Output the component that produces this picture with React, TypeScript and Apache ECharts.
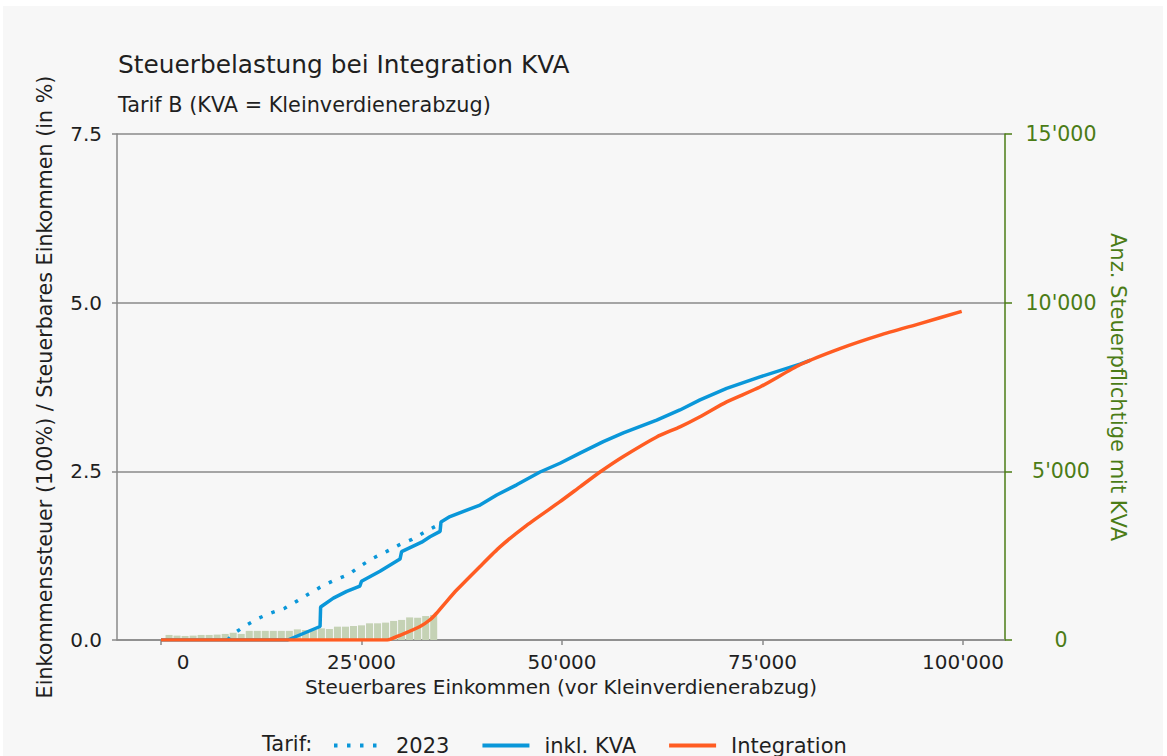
import React, { useEffect, useRef } from "react";
import * as echarts from "echarts";

// ---------- data ----------
const title = "Steuerbelastung bei Integration KVA";
const subtitle = "Tarif B (KVA = Kleinverdienerabzug)";
const xTicks = [0, 25000, 50000, 75000, 100000];

// histogram: number of taxpayers with KVA per 1'000 income bin (bin centres)
const binCenters = [
  1000, 2000, 3000, 4000, 5000, 6000, 7000, 8000, 9000, 10000,
  11000, 12000, 13000, 14000, 15000, 16000, 17000, 18000, 19000, 20000,
  21000, 22000, 23000, 24000, 25000, 26000, 27000, 28000, 29000, 30000,
  31000, 32000, 33000, 34000,
];
const binCounts = [
  150, 130, 120, 130, 150, 150, 160, 180, 215, 180,
  270, 270, 270, 270, 270, 270, 315, 295, 295, 345,
  325, 395, 395, 415, 435, 495, 495, 515, 565, 595,
  670, 660, 710, 740,
];

// Tarif 2023 (dotted)
const income2023 = [8300, 9000, 10500, 12100, 13700, 15400, 17000, 18500, 20100, 21700, 23400, 24900, 26400, 28100, 29700, 31300, 32900, 34450, 34900];
const tax2023 = [0, 0.09, 0.21, 0.32, 0.40, 0.47, 0.58, 0.69, 0.80, 0.89, 0.97, 1.10, 1.21, 1.31, 1.41, 1.49, 1.60, 1.70, 1.74];

// inkl. KVA (solid blue)
const incomeKVA = [0, 15800, 19830, 19900, 21490, 23150, 24800, 25000, 27300, 29800, 30000, 32500, 33540, 34800, 34910, 36030, 39780, 41860, 44350, 47260, 49750, 52240, 55150, 57650, 61810, 64710, 67210, 70530, 74690, 79680, 81000];
const taxKVA = [0, 0, 0.20, 0.49, 0.62, 0.72, 0.80, 0.87, 1.02, 1.20, 1.31, 1.45, 1.53, 1.61, 1.75, 1.83, 2.00, 2.15, 2.30, 2.49, 2.62, 2.77, 2.94, 3.07, 3.26, 3.41, 3.56, 3.73, 3.90, 4.09, 4.15];

// Integration (solid orange)
const incomeInt = [0, 28200, 29800, 32300, 33540, 34380, 35600, 36870, 39780, 42270, 45590, 49750, 52240, 54740, 57650, 61810, 64710, 67210, 70530, 74690, 79680, 84660, 89650, 94640, 99840];
const taxInt = [0, 0, 0.07, 0.20, 0.30, 0.40, 0.57, 0.74, 1.09, 1.38, 1.70, 2.05, 2.27, 2.49, 2.72, 3.01, 3.16, 3.31, 3.53, 3.75, 4.08, 4.32, 4.52, 4.69, 4.87];

// ---------- styling ----------
const FONT = "'DejaVu Sans', sans-serif";
const TEXT = "#1f1f1f";
const GRAY = "#8a8a8a";
const GREEN = "#4b7c16";
const BLUE = "#0a97d9";
const ORANGE = "#ff5c22";
const BAR = "#c5d2b5";

const fmtThousands = (v: number) =>
  String(Math.round(v)).replace(/\B(?=(\d{3})+(?!\d))/g, "'");

const zip = (a: number[], b: number[]) => a.map((x, i) => [x, b[i]]);

export default function App() {
  const ref = useRef<HTMLDivElement>(null);

  useEffect(() => {
    document.body.style.margin = "0";
    const chart = echarts.init(ref.current!, null, { renderer: "svg" });
    const option: any = {
      animation: false,
      backgroundColor: "#f7f7f7",
      textStyle: { fontFamily: FONT },
      title: [
        {
          text: title,
          left: 115,
          top: 46,
          padding: 0,
          textStyle: { fontFamily: FONT, fontSize: 24.8, fontWeight: "normal", color: TEXT },
        },
        {
          text: subtitle,
          left: 115,
          top: 88,
          padding: 0,
          textStyle: { fontFamily: FONT, fontSize: 20.8, fontWeight: "normal", color: TEXT },
        },
      ],
      graphic: [
        {
          type: "text",
          left: 259,
          top: 727,
          style: { text: "Tarif:", fontFamily: FONT, fontSize: 21, fill: TEXT },
        },
      ],
      legend: {
        data: ["2023", "inkl. KVA", "Integration"],
        left: 329,
        top: 729,
        padding: 0,
        itemWidth: 47,
        itemHeight: 14,
        itemGap: 31,
        itemStyle: { opacity: 0, borderWidth: 0 },
        lineStyle: { width: 4 },
        textStyle: { fontFamily: FONT, fontSize: 21, color: TEXT, padding: [0, 0, 0, 10] },
      },
      grid: { left: 114, top: 128, width: 888, height: 506, containLabel: false },
      xAxis: {
        type: "value",
        min: -5490,
        max: 105240,
        name: "Steuerbares Einkommen (vor Kleinverdienerabzug)",
        nameLocation: "middle",
        nameGap: 35,
        nameTextStyle: { fontFamily: FONT, fontSize: 20, color: TEXT },
        axisLine: { show: true, onZero: false, lineStyle: { color: GRAY, width: 1.5 } },
        axisTick: { show: true, length: 5, lineStyle: { color: GRAY, width: 1.5 }, customValues: xTicks },
        axisLabel: {
          customValues: xTicks,
          margin: 12,
          fontFamily: FONT,
          fontSize: 20,
          color: TEXT,
          formatter: (v: number) => (v === 0 ? "{z|0}" : fmtThousands(v)),
          rich: { z: { padding: [0, 0, 0, 44], fontFamily: FONT, fontSize: 20, color: TEXT } },
        },
        splitLine: { show: false },
      },
      yAxis: [
        {
          type: "value",
          min: 0,
          max: 7.5,
          interval: 2.5,
          position: "left",
          name: "Einkommenssteuer (100%) / Steuerbares Einkommen (in %)",
          nameLocation: "middle",
          nameGap: 62,
          nameRotate: 90,
          nameTextStyle: { fontFamily: FONT, fontSize: 20.7, color: TEXT },
          axisLine: { show: true, onZero: false, lineStyle: { color: GRAY, width: 1.5 } },
          axisTick: { show: true, length: 5, lineStyle: { color: GRAY, width: 1.5 } },
          axisLabel: {
            margin: 15,
            fontFamily: FONT,
            fontSize: 20,
            color: TEXT,
            formatter: (v: number) => v.toFixed(1),
          },
          splitLine: { show: true, lineStyle: { color: GRAY, width: 1.5 } },
        },
        {
          type: "value",
          min: 0,
          max: 15000,
          interval: 5000,
          position: "right",
          name: "Anz. Steuerpflichtige mit KVA",
          nameLocation: "middle",
          nameGap: 100,
          nameRotate: -90,
          nameTextStyle: { fontFamily: FONT, fontSize: 21, color: GREEN },
          axisLine: { show: true, onZero: false, lineStyle: { color: GREEN, width: 1.5 } },
          axisTick: { show: true, length: 7, lineStyle: { color: GREEN, width: 1.5 } },
          axisLabel: {
            margin: 56,
            align: "center",
            fontFamily: FONT,
            fontSize: 20.5,
            color: GREEN,
            formatter: (v: number) => fmtThousands(v),
          },
          splitLine: { show: false },
        },
      ],
      series: [
        {
          name: "Anzahl",
          type: "custom",
          yAxisIndex: 1,
          encode: { x: 0, y: 1 },
          data: zip(binCenters, binCounts),
          renderItem: (params: any, api: any) => {
            const c = api.value(0);
            const v = api.value(1);
            const p0 = api.coord([c - 500, 0]);
            const p1 = api.coord([c + 500, v]);
            return {
              type: "rect",
              shape: { x: p0[0] + 0.5, y: p1[1], width: p1[0] - p0[0] - 1, height: p0[1] - p1[1] },
              style: { fill: BAR },
            };
          },
          z: 1,
        },
        {
          name: "2023",
          type: "line",
          data: zip(income2023, tax2023),
          symbol: "none",
          color: BLUE,
          lineStyle: { color: BLUE, width: 3.5, type: [3.5, 9.5], cap: "butt" },
          z: 2,
        },
        {
          name: "inkl. KVA",
          type: "line",
          data: zip(incomeKVA, taxKVA),
          symbol: "none",
          color: BLUE,
          lineStyle: { color: BLUE, width: 3.5 },
          z: 3,
        },
        {
          name: "Integration",
          type: "line",
          data: zip(incomeInt, taxInt),
          symbol: "none",
          smooth: 0.2,
          color: ORANGE,
          lineStyle: { color: ORANGE, width: 3.5 },
          z: 4,
        },
      ],
    };
    chart.setOption(option);
    return () => chart.dispose();
  }, []);

  return (
    <div style={{ position: "fixed", left: 0, top: 0, width: 1167, height: 756, background: "#ffffff", overflow: "hidden" }}>
      <div ref={ref} style={{ position: "absolute", left: 3, top: 6, width: 1160, height: 750 }} />
    </div>
  );
}
